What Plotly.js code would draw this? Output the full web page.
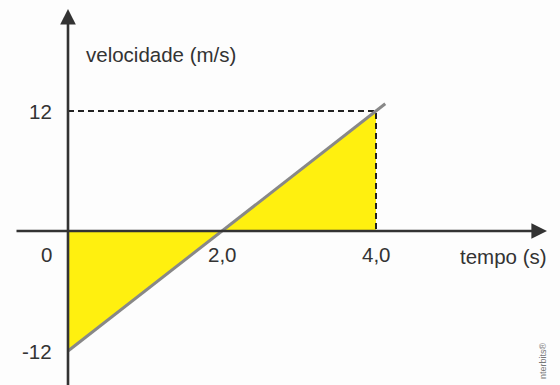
<!DOCTYPE html>
<html>
<head>
<meta charset="utf-8">
<script src="https://cdn.plot.ly/plotly-3.0.1.min.js"></script>
<style>
  html, body { margin: 0; padding: 0; background: #fdfdfd; }
  #chart { width: 560px; height: 385px; }
</style>
</head>
<body>
<div id="chart"></div>
<script>
// data
const tempo = [0, 2, 4];            // s
const velocidade = [-12, 0, 12];    // m/s
// the grey line runs a little past t = 4
const linhaT = [0, 4.12];
const linhaV = [-12, 12.72];

const yTickVals = [12, 0, -12];
const yTickText = ['12', '0', '-12'];
const xTickVals = [2, 4];
const xTickText = ['2,0', '4,0'];

const W = 560, H = 385;
const x0px = 68, pxPorS = 77;       // origin column, px per second
const y0px = 231, pxPorV = 10;      // origin row, px per m/s
const px2x = (p) => (p - x0px) / pxPorS;
const py2y = (p) => (y0px - p) / pxPorV;

const ink = '#333333';
const amarelo = '#fff00f';
const fonte = 'Liberation Sans, Arial, sans-serif';

// yellow areas between the line and the time axis
const area1 = {
    x: [tempo[0], tempo[0], tempo[1], tempo[0]],
    y: [0, velocidade[0], velocidade[1], 0],
    type: 'scatter', mode: 'lines', fill: 'toself',
    fillcolor: amarelo, line: { width: 0 }, hoverinfo: 'skip'
};
const area2 = {
    x: [tempo[1], tempo[2], tempo[2], tempo[1]],
    y: [velocidade[1], velocidade[2], 0, velocidade[1]],
    type: 'scatter', mode: 'lines', fill: 'toself',
    fillcolor: amarelo, line: { width: 0 }, hoverinfo: 'skip'
};

// dashed guide from the 12 mark to t = 4 and down to the axis
const guia = {
    x: [tempo[0], tempo[2], tempo[2]],
    y: [velocidade[2], velocidade[2], 0],
    type: 'scatter', mode: 'lines',
    line: { color: '#222', width: 2, dash: '6px,4px' }
};

const reta = {
    x: linhaT, y: linhaV,
    type: 'scatter', mode: 'lines',
    line: { color: '#888888', width: 3 }
};

const txt = (s, extra) => Object.assign({
    text: s, showarrow: false,
    font: { family: fonte, size: 20.5, color: ink }
}, extra);

const annotations = [
    // vertical axis with arrow
    { x: 0, y: py2y(9), ax: 0, ay: py2y(H + 5), xref: 'x', yref: 'y', axref: 'x', ayref: 'y',
      text: '', showarrow: true, arrowhead: 2, arrowsize: 1.2, arrowwidth: 2.6, arrowcolor: ink },
    // horizontal axis with arrow
    { x: px2x(547), y: 0, ax: px2x(15), ay: 0, xref: 'x', yref: 'y', axref: 'x', ayref: 'y',
      text: '', showarrow: true, arrowhead: 2, arrowsize: 1.2, arrowwidth: 2.6, arrowcolor: ink },
    txt('velocidade (m/s)', { xref: 'paper', yref: 'paper', x: 84 / W, y: 1 - 55 / H,
      xanchor: 'left', yanchor: 'middle' }),
    txt('tempo (s)', { xref: 'paper', yref: 'paper', x: 549 / W, y: 1 - 256 / H,
      xanchor: 'right', yanchor: 'middle' }),
    { xref: 'paper', yref: 'paper', x: 543 / W, y: 1 - 361 / H, text: 'nterbits®',
      textangle: -90, showarrow: false, xanchor: 'center', yanchor: 'middle',
      font: { family: fonte, size: 9, color: '#777' } }
];

yTickVals.forEach((v, i) => {
    annotations.push(txt(yTickText[i], {
        x: 0, y: v, xref: 'x', yref: 'y', xanchor: 'right', yanchor: 'middle',
        xshift: -14, yshift: v === 0 ? -23 : 0
    }));
});
xTickVals.forEach((v, i) => {
    annotations.push(txt(xTickText[i], {
        x: v, y: 0, xref: 'x', yref: 'y', xanchor: 'center', yanchor: 'middle',
        yshift: -23
    }));
});

const layout = {
    width: W, height: H,
    margin: { l: 0, r: 0, t: 0, b: 0 },
    paper_bgcolor: '#fdfdfd', plot_bgcolor: '#fdfdfd',
    showlegend: false,
    xaxis: { range: [px2x(0), px2x(W)], visible: false, fixedrange: true },
    yaxis: { range: [py2y(H), py2y(0)], visible: false, fixedrange: true },
    annotations: annotations
};

Plotly.newPlot('chart', [area1, area2, guia, reta], layout, { displayModeBar: false, staticPlot: true });
</script>
</body>
</html>
